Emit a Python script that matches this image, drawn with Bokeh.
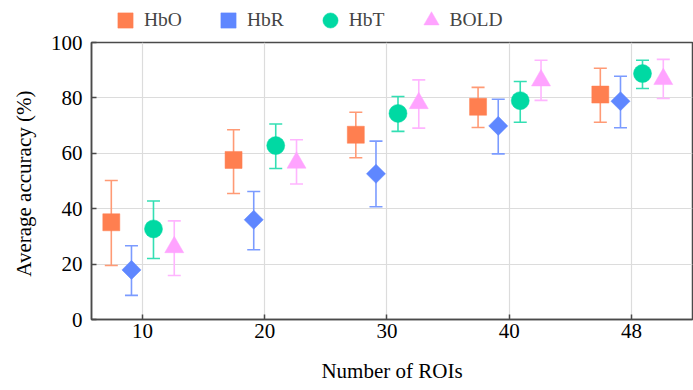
import numpy as np
from bokeh.plotting import figure
from bokeh.layouts import column
from bokeh.models import (ColumnDataSource, Whisker, TeeHead, FixedTicker, Legend, LegendItem,
                          Range1d)
from bokeh.embed import file_html
from bokeh.resources import INLINE

rois = ["10", "20", "30", "40", "48"]
series = ["HbO", "HbR", "HbT", "BOLD"]
hbo_mean = [35.1, 57.6, 66.7, 76.8, 81.2]
hbo_low = [19.5, 45.5, 58.4, 69.3, 71.2]
hbo_high = [50.2, 68.5, 74.8, 83.8, 90.7]
hbr_mean = [17.9, 36.0, 52.6, 69.9, 78.8]
hbr_low = [8.7, 25.2, 40.7, 59.8, 69.2]
hbr_high = [26.6, 46.2, 64.4, 79.5, 87.8]
hbt_mean = [32.7, 62.8, 74.4, 79.0, 88.8]
hbt_low = [22.0, 54.5, 67.9, 71.2, 83.4]
hbt_high = [42.8, 70.6, 80.5, 85.9, 93.6]
bold_mean = [26.1, 56.6, 78.1, 86.3, 86.8]
bold_low = [15.9, 48.9, 69.1, 79.1, 79.8]
bold_high = [35.6, 64.9, 86.5, 93.6, 93.9]
y_ticks = [0, 20, 40, 60, 80, 100]

means = [hbo_mean, hbr_mean, hbt_mean, bold_mean]
lows = [hbo_low, hbr_low, hbt_low, bold_low]
highs = [hbo_high, hbr_high, hbt_high, bold_high]
offsets = [-0.255, -0.09, 0.09, 0.26]
colors = ["#FF7F50", "#5F87FF", "#00D9A3", "#FFA3FF"]
bar_colors = ["#FF9A75", "#7B9BFF", "#33DFB3", "#FFB5FF"]
markers = ["square", "square", "circle", "triangle"]
sizes = [17, 13.5, 18, 19]
angles = [0, np.pi / 4, 0, 0]

FONT = "Liberation Serif"
AX = "#4a4a4a"

p = figure(width=693, height=360, output_backend="svg", toolbar_location=None,
           x_range=Range1d(0.583, 5.499), y_range=Range1d(0, 100),
           min_border_left=91, min_border_right=1, min_border_top=12, min_border_bottom=71)
p.outline_line_color = AX
p.outline_line_width = 1.5
p.background_fill_color = "white"

# legend strip above the chart
lg = figure(width=693, height=30, output_backend="svg", toolbar_location=None,
            x_range=Range1d(0.583, 5.499), y_range=Range1d(1000, 1001),
            min_border_left=0, min_border_right=0, min_border_top=0, min_border_bottom=0)
lg.axis.visible = False
lg.grid.visible = False
lg.outline_line_color = None

pos = [1, 2, 3, 4, 5]
items = []
for i, s in enumerate(series):
    src = ColumnDataSource(dict(x=[k + offsets[i] for k in pos], y=means[i], lo=lows[i], hi=highs[i]))
    w = Whisker(base="x", upper="hi", lower="lo", source=src, dimension="height",
                line_color=bar_colors[i], line_width=1.6,
                upper_head=TeeHead(size=13, line_color=bar_colors[i], line_width=1.6),
                lower_head=TeeHead(size=13, line_color=bar_colors[i], line_width=1.6))
    p.add_layout(w)
    p.scatter("x", "y", source=src, marker=markers[i], size=sizes[i], angle=angles[i],
              fill_color=colors[i], line_color=colors[i], line_width=0.5)
    r2 = lg.scatter("x", "y", source=src, marker=markers[i], size=sizes[i], angle=angles[i],
                    fill_color=colors[i], line_color=colors[i], line_width=0.5)
    items.append(LegendItem(label=s, renderers=[r2]))

xa = p.xaxis[0]
ya = p.yaxis[0]
xa.ticker = FixedTicker(ticks=pos)
xa.major_label_overrides = {k: v for k, v in zip(pos, rois)}
ya.ticker = FixedTicker(ticks=y_ticks)

for ax in (xa, ya):
    ax.axis_line_color = AX
    ax.axis_line_width = 1.5
    ax.major_tick_in = 5
    ax.major_tick_out = 0
    ax.major_tick_line_color = AX
    ax.major_tick_line_width = 1.5
    ax.minor_tick_line_color = None
    ax.major_label_text_font = FONT
    ax.major_label_text_font_size = "21px"
    ax.major_label_text_color = "black"
    ax.axis_label_text_font = FONT
    ax.axis_label_text_font_size = "21px"
    ax.axis_label_text_font_style = "normal"
    ax.axis_label_text_color = "black"

xa.axis_label = "Number of ROIs"
ya.axis_label = "Average  accuracy (%)"
xa.major_label_standoff = 4
xa.axis_label_standoff = 18
ya.major_label_standoff = 9
ya.axis_label_standoff = 12

p.xgrid.grid_line_color = "#dcdcdc"
p.ygrid.grid_line_color = "#dcdcdc"
p.xgrid.grid_line_width = 1.2
p.ygrid.grid_line_width = 1.2

legend = Legend(items=items, orientation="horizontal", location=(15, -9),
                label_text_font=FONT, label_text_font_size="19.5px",
                label_standoff=-4, spacing=27, glyph_width=38, glyph_height=38,
                border_line_color=None, background_fill_alpha=0,
                padding=0, margin=0, label_height=18)
lg.add_layout(legend)

layout = column(lg, p, spacing=0)
open("out.html", "w").write(file_html(layout, INLINE))
